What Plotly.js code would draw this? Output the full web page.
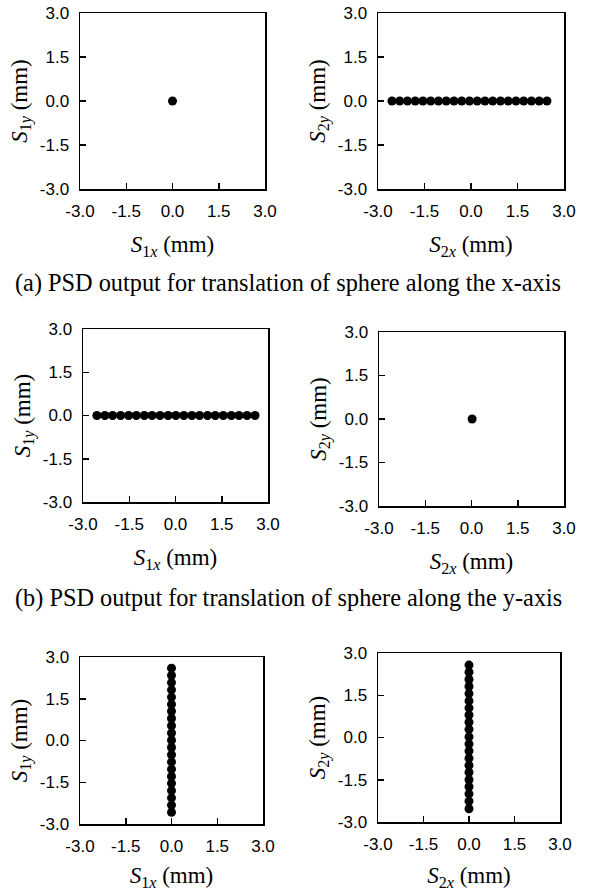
<!DOCTYPE html>
<html><head><meta charset="utf-8">
<script src="https://cdn.plot.ly/plotly-3.0.1.min.js"></script>
<style>html,body{margin:0;padding:0;background:#fff}#chart{width:591px;height:891px}</style>
</head><body><div id="chart"></div>
<script>
// ---- data ----
const tickVals = [-3, -1.5, 0, 1.5, 3];
const tickText = ["-3.0", "-1.5", "0.0", "1.5", "3.0"];

// (a) translation along x
const a1X = [0];
const a1Y = [0];
const a2X = [-2.55,-2.3,-2.05,-1.8,-1.55,-1.3,-1.05,-0.8,-0.55,-0.3,-0.05,0.2,0.45,0.7,0.95,1.2,1.45,1.7,1.95,2.2,2.45];
const a2Y = [0,0,0,0,0,0,0,0,0,0,0,0,0,0,0,0,0,0,0,0,0];
// (b) translation along y
const b1X = [-2.55,-2.29,-2.04,-1.78,-1.52,-1.27,-1.01,-0.76,-0.5,-0.24,0.01,0.27,0.53,0.78,1.04,1.29,1.55,1.81,2.06,2.32,2.58];
const b1Y = [0,0,0,0,0,0,0,0,0,0,0,0,0,0,0,0,0,0,0,0,0];
const b2X = [0.02];
const b2Y = [0];
// (c) third translation
const c1X = [0,0,0,0,0,0,0,0,0,0,0,0,0,0,0,0,0,0,0,0,0];
const c1Y = [2.6,2.34,2.08,1.82,1.56,1.3,1.05,0.79,0.53,0.27,0.01,-0.25,-0.51,-0.77,-1.03,-1.29,-1.54,-1.8,-2.06,-2.32,-2.58];
const c2X = [0,0,0,0,0,0,0,0,0,0,0,0,0,0,0,0,0,0,0,0,0];
const c2Y = [2.57,2.32,2.06,1.81,1.56,1.3,1.05,0.8,0.54,0.29,0.02,-0.23,-0.48,-0.74,-0.99,-1.24,-1.5,-1.75,-2.0,-2.26,-2.53];

const xTitles = ["<i>S</i><sub>1<i>x</i></sub> (mm)", "<i>S</i><sub>2<i>x</i></sub> (mm)"];
const yTitles = ["<i>S</i><sub>1<i>y</i></sub> (mm)", "<i>S</i><sub>2<i>y</i></sub> (mm)"];
const captions = [
  "(a) PSD output for translation of sphere along the x-axis",
  "(b) PSD output for translation of sphere along the y-axis"
];

// ---- layout geometry (pixels) ----
const W = 591, H = 891;
const boxes = [
  {l:80,  r:265, t:13,  b:189},
  {l:378, r:564, t:13,  b:189},
  {l:83,  r:268, t:329, b:502},
  {l:379, r:564, t:332, b:506},
  {l:80,  r:263, t:657, b:824},
  {l:378, r:560, t:653, b:822}
];
const series = [[a1X,a1Y],[a2X,a2Y],[b1X,b1Y],[b2X,b2Y],[c1X,c1Y],[c2X,c2Y]];

const serif = "Liberation Serif, Times New Roman, serif";
const sans = "Liberation Sans, Arial, sans-serif";

const traces = [];
const layout = {
  width: W, height: H,
  margin: {l:0, r:0, t:0, b:0},
  paper_bgcolor: "#fff", plot_bgcolor: "#fff",
  showlegend: false,
  annotations: []
};

function axis(domain, anchor, title, isX) {
  return {
    domain: domain, anchor: anchor, range: [-3, 3],
    tickmode: "array", tickvals: tickVals, ticktext: tickText,
    ticks: "inside", ticklen: 6, tickwidth: 1.5, tickcolor: "#000",
    showline: true, linecolor: "#000", linewidth: 1.5, mirror: true,
    showgrid: false, zeroline: false, fixedrange: true,
    ticklabelstandoff: 6,
    tickfont: {family: sans, size: 17, color: "#000"},
    title: {text: title, font: {family: serif, size: 23, color: "#000"}, standoff: isX ? 16 : 6}
  };
}

boxes.forEach((bx, i) => {
  const n = i + 1;
  const xa = "x" + (n === 1 ? "" : n), ya = "y" + (n === 1 ? "" : n);
  traces.push({
    type: "scatter", mode: "markers",
    x: series[i][0], y: series[i][1],
    xaxis: xa, yaxis: ya,
    marker: {color: "#000", size: 9},
    hoverinfo: "skip"
  });
  const col = i % 2;
  layout["xaxis" + (n === 1 ? "" : n)] = axis([bx.l / W, bx.r / W], ya, xTitles[col], true);
  layout["yaxis" + (n === 1 ? "" : n)] = axis([1 - bx.b / H, 1 - bx.t / H], xa, yTitles[col], false);
});

const capY = [283, 598];
captions.forEach((c, i) => {
  layout.annotations.push({
    text: c, xref: "paper", yref: "paper",
    x: 288 / W, y: 1 - capY[i] / H, xanchor: "center", yanchor: "middle",
    showarrow: false, font: {family: serif, size: 24.3, color: "#000"}
  });
});

Plotly.newPlot("chart", traces, layout, {displayModeBar: false, staticPlot: true});
</script>
</body></html>
